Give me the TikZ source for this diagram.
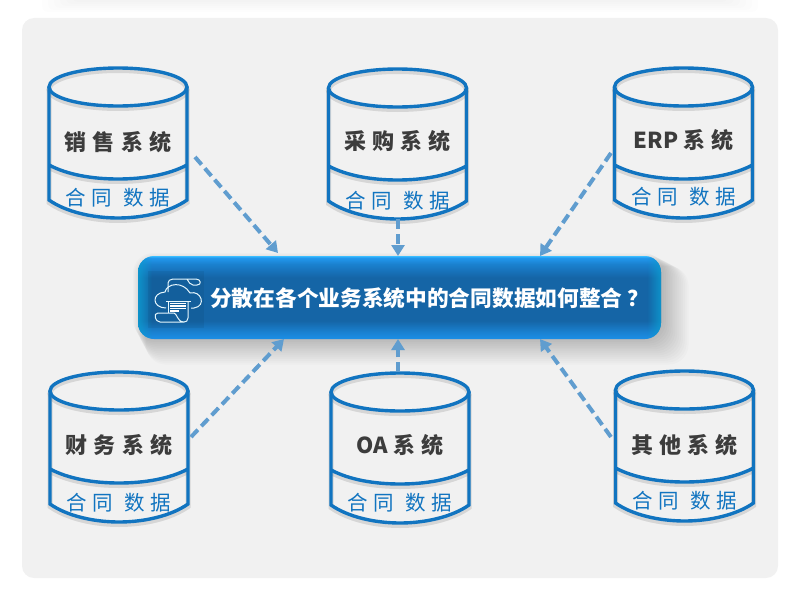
\documentclass[tikz,border=0pt]{standalone}
\usepackage{fontspec}
\usetikzlibrary{arrows.meta}
\usetikzlibrary{fadings}
\newfontfamily\cjk{Noto Sans CJK SC}
\newfontfamily\cjkname[LetterSpace=28,WordSpace=.45]{Noto Sans CJK SC}
\newfontfamily\cjkdata[LetterSpace=26,WordSpace=1.2]{Noto Sans CJK SC}
\definecolor{panelgray}{HTML}{F1F1F1}
\definecolor{cylblue}{HTML}{1174C0}
\definecolor{arrowblue}{HTML}{609DCF}
\definecolor{namegray}{HTML}{3C3C3C}
\definecolor{hubedge}{HTML}{1C8FE6}
\definecolor{hubmid}{HTML}{1A82D2}
\definecolor{hubdark}{HTML}{1565A6}
\definecolor{hubup}{HTML}{1A80CE}
\definecolor{hubtop}{HTML}{2298EE}
\definecolor{hubrim}{HTML}{3ABDFF}
\pgfdeclareverticalshading{hubshade}{100bp}{
 color(0bp)=(hubedge); color(25bp)=(hubedge); color(29bp)=(hubmid); color(36bp)=(hubdark);
 color(62bp)=(hubdark); color(70bp)=(hubup); color(74bp)=(hubtop); color(75bp)=(hubrim); color(100bp)=(hubrim)}
\tikzset{
 cylline/.style={draw=cylblue, line width=3.4pt},
 cylshadow/.style={draw=black, opacity=.11, line width=5pt},
 sysname/.style={font=\cjkname\bfseries\fontsize{22}{22}\selectfont, text=namegray},
 subname/.style={font=\cjkdata\fontsize{20.5}{20.5}\selectfont, text=cylblue},
 flowarrow/.style={draw=arrowblue, line width=4pt, dash pattern=on 10pt off 5pt, -{Triangle[length=11pt,width=13pt]}},
 iconline/.style={draw=white!90!cyan, line width=1pt, line join=round},
}
\begin{document}
\begin{tikzpicture}[x=1pt, y=-1pt]
\useasboundingbox (0,0) rectangle (794,594);
% faint band along the top and the gray panel
\foreach \i in {1,...,6} {
 \fill[black, opacity=.007, rounded corners=6pt] (36+\i*6,-12) rectangle (764-\i*6,14-\i*2);
}
\fill[panelgray, rounded corners=12pt] (22,18) rectangle (778,578);
% arrow ends
\coordinate (a1) at (195,157);
\coordinate (b1) at (278,253);
\coordinate (a2) at (398,219);
\coordinate (b2) at (398,256);
\coordinate (a3) at (611,153);
\coordinate (b3) at (540,256);
\coordinate (a4) at (191,437);
\coordinate (b4) at (284,339);
\coordinate (a5) at (398,372);
\coordinate (b5) at (398,339);
\coordinate (a6) at (611,437);
\coordinate (b6) at (540,339);
% cylinders: x, y, name, y of name, y of data label
\foreach \x/\y/\n/\t/\ty/\dy in {118/87/sales/销售系统/142/198, 397.5/88/buy/采购系统/141/201,
 683.5/87/erp/{{\cjk ERP} 系统}/140/197, 119/391/fin/财务系统/445/503, 400/392/oa/{{\cjk OA} 系统}/445/503,
 684.5/390/other/其他系统/445/501} {
 \begin{scope}[shift={(\x,\y)}]
 \foreach \s/\o in {cylshadow/2.5, cylline/0} {
 \draw[\s, yshift=-\o pt] (0,0) ellipse [x radius=69, y radius=19];
 \draw[\s, yshift=-\o pt] (-69,0) -- (-69,113) .. controls (-52,125) and (-25,131) .. (0,131)
  .. controls (25,131) and (52,125) .. (69,113) -- (69,0);
 \draw[\s, yshift=-\o pt] (-69,78) .. controls (-50,88) and (-25,92) .. (0,92)
  .. controls (25,92) and (50,88) .. (69,78);
 }
 \end{scope}
 \node[sysname] (\n name) at (\x,\ty) {\t};
 \node[subname] (\n data) at (\x,\dy) {合同 数据};
}
\foreach \i in {1,...,14} {
 \fill[black, opacity=.016, rounded corners=20pt] (132+\i,252+\i) rectangle (662+\i*1.9,338+\i*1.9);
}
% the central box
\begin{scope}
\clip[rounded corners=16pt] (138,256) rectangle (661,339);
\shade[shading=hubshade] (138,256) rectangle (661,339);
\shade[left color=cylblue!70!cyan, right color=cylblue!70!cyan, path fading=east, opacity=.8] (138,256) rectangle (152,339);
\shade[left color=cylblue!70!cyan, right color=cylblue!70!cyan, path fading=west, opacity=.8] (647,256) rectangle (661,339);
\end{scope}
\fill[black, opacity=.06] (148,271) rectangle (204,328);
\node[font=\cjk\bfseries\fontsize{21.7}{21.7}\selectfont, text=white, anchor=west, inner sep=0pt] (hub) at (210,298) {分散在各个业务系统中的合同数据如何整合 ？};
% icon
\draw[iconline] (168,292) -- (168,283) .. controls (168,281) and (170,279) .. (173,279) -- (196,279)
 .. controls (201,279) and (202,285) .. (197,285) -- (193,285) .. controls (190,285) and (189,282) .. (187,279);
\draw[iconline] (166,308) .. controls (152,308) and (151,293) .. (165,292) .. controls (167,283) and (183,281) .. (190,293)
 .. controls (201,290) and (207,306) .. (194,308) -- (191,308);
\draw[iconline] (166,301) -- (191,301);
\draw[iconline] (168,301) -- (168,313);
\draw[iconline] (188,301) -- (188,318) .. controls (188,321) and (186,322) .. (184,322) -- (160,322)
 .. controls (155,322) and (153,313) .. (158,313) -- (174,313) .. controls (177,313) and (177,322) .. (184,322);
\foreach \ly/\lx in {303.5/186,306/186,308.5/186,311/179} {
 \draw[white, line width=1.2pt] (170,\ly) -- (\lx,\ly);
}
% arrows to the box
\foreach \i in {1,...,6} {
 \draw[flowarrow] (a\i) -- (b\i);
}
\end{tikzpicture}
\end{document}
